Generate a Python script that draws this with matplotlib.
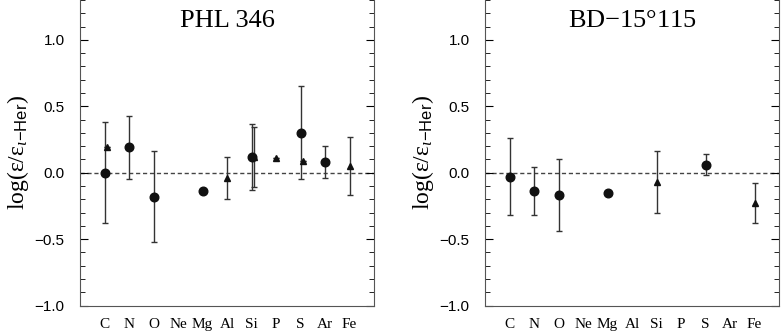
import numpy as np
import matplotlib
matplotlib.use("Agg")
import matplotlib.pyplot as plt
from matplotlib.ticker import MultipleLocator

plt.rcParams['font.family'] = ['Liberation Serif', 'DejaVu Serif']
plt.rcParams['mathtext.fontset'] = 'custom'
plt.rcParams['mathtext.rm'] = 'Liberation Serif'
plt.rcParams['mathtext.it'] = 'Liberation Serif:italic'
plt.rcParams['mathtext.sf'] = 'Liberation Sans'

elements = ["C", "N", "O", "Ne", "Mg", "Al", "Si", "P", "S", "Ar", "Fe"]

# PHL 346 -- circles
phl_c_el = ["C", "N", "O", "Mg", "Si", "S", "Ar"]
phl_c_val = [0.00, 0.19, -0.18, -0.14, 0.12, 0.30, 0.08]
phl_c_err = [0.38, 0.24, 0.34, 0.0, 0.25, 0.35, 0.12]
phl_c_dx = [0, 0, 0, 0, 0, 0, 0]
# PHL 346 -- triangles
phl_t_el = ["C", "Al", "Si", "P", "S", "Fe"]
phl_t_val = [0.19, -0.04, 0.12, 0.11, 0.09, 0.05]
phl_t_err = [0.0, 0.16, 0.225, 0.0, 0.0, 0.22]
phl_t_dx = [0.12, 0, 0.1, 0, 0.1, 0]

# BD-15 115 -- circles
bd_c_el = ["C", "N", "O", "Mg", "S"]
bd_c_val = [-0.03, -0.14, -0.17, -0.15, 0.06]
bd_c_err = [0.29, 0.18, 0.27, 0.0, 0.08]
bd_c_dx = [0, 0, 0, 0, 0]
# BD-15 115 -- triangles
bd_t_el = ["Si", "Fe"]
bd_t_val = [-0.07, -0.23]
bd_t_err = [0.23, 0.15]
bd_t_dx = [0, 0]

titles = ["PHL 346", "BD$-$15°115"]
panels = [(phl_c_el, phl_c_val, phl_c_err, phl_c_dx, phl_t_el, phl_t_val, phl_t_err, phl_t_dx),
          (bd_c_el, bd_c_val, bd_c_err, bd_c_dx, bd_t_el, bd_t_val, bd_t_err, bd_t_dx)]

fig = plt.figure(figsize=(7.81, 3.34), dpi=100)
lefts = [80/781, 485/781]
col = "#111111"

for k in range(2):
    ax = fig.add_axes([lefts[k], 28.5/334, 294/781, 305.5/334])
    ce, cv, cerr, cdx, te, tv, terr, tdx = panels[k]
    ax.axhline(0, color="#444444", lw=1, ls=(0, (3, 2)), zorder=1)
    cx = np.array([elements.index(e) + 1 for e in ce]) + np.array(cdx)
    tx = np.array([elements.index(e) + 1 for e in te]) + np.array(tdx)
    ax.errorbar(cx, cv, yerr=cerr, fmt="o", color=col, ms=6.2, elinewidth=1,
                capsize=2.5, capthick=1, ecolor="#333333", zorder=3)
    ax.errorbar(tx, tv, yerr=terr, fmt="^", color=col, ms=5, elinewidth=1,
                capsize=2.5, capthick=1, ecolor="#333333", zorder=3)
    ax.set_xlim(0, 12)
    ax.set_ylim(-1.0, 1.3)
    ax.set_xticks(range(1, 12))
    ax.set_xticklabels(elements, fontsize=11)
    ax.tick_params(axis="x", length=0, pad=9)
    ax.yaxis.set_major_locator(MultipleLocator(0.5))
    ax.yaxis.set_minor_locator(MultipleLocator(0.1))
    ax.set_yticks([-1.0, -0.5, 0.0, 0.5, 1.0])
    ax.set_yticklabels(["−1.0", "−0.5", "0.0", "0.5", "1.0"], family="Liberation Sans")
    ax.tick_params(axis="y", which="both", direction="in", right=True, labelsize=11, pad=11)
    ax.tick_params(axis="y", which="major", length=6)
    ax.tick_params(axis="y", which="minor", length=3.5)
    ax.spines["top"].set_visible(False)
    for s in ax.spines.values():
        s.set_color("#555555")
    ax.set_ylabel(r"$\mathrm{log}(\mathrm{\epsilon}/\mathrm{\epsilon}_{\iota\mathsf{-Her}})$", fontsize=17, labelpad=3)
    ax.text(0.5, 0.93, titles[k], transform=ax.transAxes, ha="center", va="center", fontsize=19)

plt.savefig("out.png", dpi=100)
